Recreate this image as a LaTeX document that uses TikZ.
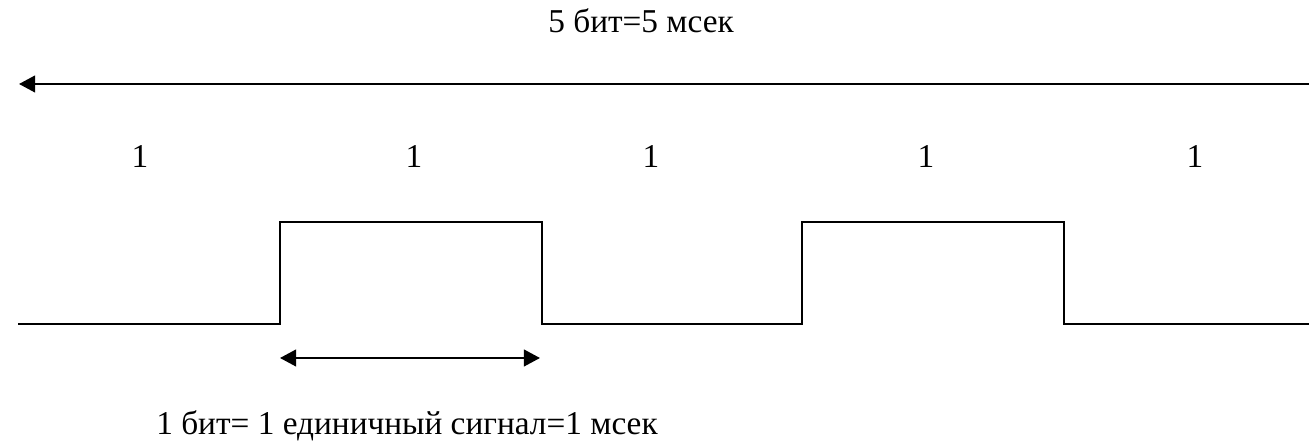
\documentclass[tikz,border=0pt]{standalone}
\usepackage{fontspec}
\setmainfont{Liberation Serif}
\usetikzlibrary{arrows.meta}
\tikzset{
  wire/.style={line width=0.8pt},
  lbl/.style={font=\fontsize{12}{14}\selectfont, inner sep=0pt, anchor=base}
}

\begin{document}
\begin{tikzpicture}[x=0.36pt, y=-0.36pt]
	%%%%% START %%%%%
	\useasboundingbox (0,0) rectangle (1309,443);
	
	\node[lbl] (total) at (641,33) {5 бит=5 мсек};
	\coordinate (totR) at (1309,84);
	\coordinate (totL) at (19,84);
	\draw[wire, -{Triangle[length=5.8pt,width=6pt]}] (totR) -- (totL);
	
	\foreach \x/\n in {140/1, 414/2, 651/3, 926/4, 1195/5}
		\node[lbl] (bit\n) at (\x,168) {1};
	
	\coordinate (s0) at (18,324);
	\coordinate (s1) at (280,222);
	\coordinate (s2) at (542,324);
	\coordinate (s3) at (802,222);
	\coordinate (s4) at (1064,324);
	\coordinate (s5) at (1309,324);
	\draw[wire, line join=miter] (s0) -| (s1) -| (s2) -| (s3) -| (s4) -- (s5);
	
	\coordinate (oneL) at (280,358);
	\coordinate (oneR) at (540,358);
	\draw[wire, {Triangle[length=5.8pt,width=6pt]}-{Triangle[length=5.8pt,width=6pt]}] (oneL) -- (oneR);
	
	\node[lbl] (one) at (407,435) {1 бит= 1 единичный сигнал=1 мсек};
	%%%%% END %%%%%
\end{tikzpicture}
\end{document}
